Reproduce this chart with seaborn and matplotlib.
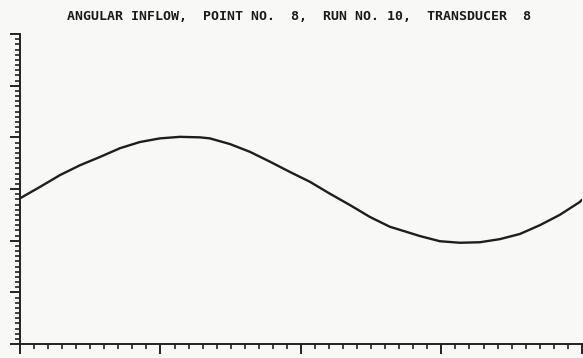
import numpy as np
import pandas as pd
import seaborn as sns
import matplotlib.pyplot as plt
from matplotlib.ticker import MultipleLocator

# values (x in tick units, y in tick units)
t = [0.0, 1.42, 2.85, 4.27, 5.69, 7.12, 8.54, 9.96, 11.39, 12.81, 13.52,
     14.95, 16.37, 17.79, 19.22, 20.64, 22.06, 23.49, 24.91, 26.33, 27.05,
     28.47, 29.89, 31.32, 32.74, 34.16, 35.59, 37.01, 38.43, 39.86, 40.0]
pressure = [28.2, 30.4, 32.7, 34.6, 36.2, 37.9, 39.1, 39.8, 40.1, 40.0, 39.8,
            38.7, 37.2, 35.3, 33.3, 31.4, 29.1, 26.9, 24.6, 22.7, 22.1,
            20.9, 19.9, 19.6, 19.7, 20.3, 21.3, 23.0, 25.0, 27.5, 27.9]
title = "ANGULAR INFLOW,  POINT NO.  8,  RUN NO. 10,  TRANSDUCER  8"

df = pd.DataFrame({"t": t, "p": pressure})

sns.set_style("ticks")
bg = "#f8f8f7"
fig = plt.figure(figsize=(5.83, 3.58), dpi=100, facecolor=bg)
ax = fig.add_axes([0.0343, 0.039, 0.9637, 0.866], facecolor=bg)

sns.lineplot(data=df, x="t", y="p", ax=ax, color="#1e1e1e", linewidth=1.7)

ax.set_xlim(0, 40)
ax.set_ylim(0, 60)
ax.xaxis.set_major_locator(MultipleLocator(10))
ax.xaxis.set_minor_locator(MultipleLocator(1))
ax.yaxis.set_major_locator(MultipleLocator(10))
ax.yaxis.set_minor_locator(MultipleLocator(1))
ax.tick_params(which="major", length=7, width=1.4, color="#222222",
               labelbottom=False, labelleft=False)
ax.tick_params(which="minor", length=3.5, width=1.2, color="#222222")
ax.set_xlabel("")
ax.set_ylabel("")
for s in ["top", "right"]:
    ax.spines[s].set_visible(False)
for s in ["left", "bottom"]:
    ax.spines[s].set_linewidth(1.4)
    ax.spines[s].set_color("#222222")

fig.text(0.513, 0.953, title, ha="center", va="center", fontsize=9.5,
         family="DejaVu Sans Mono", weight="bold", color="#1a1a1a")

fig.savefig("out.png", dpi=100, facecolor=bg)
